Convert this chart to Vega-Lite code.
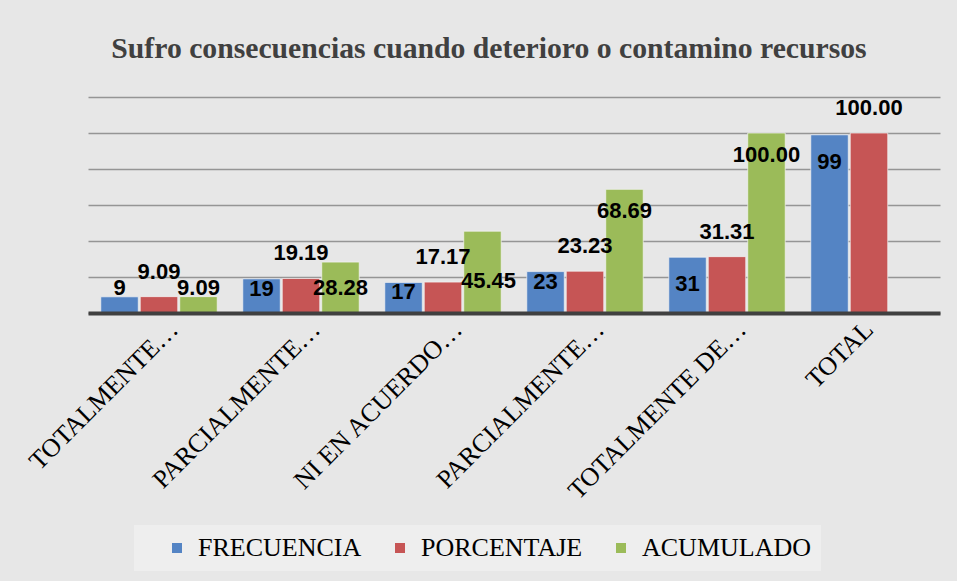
{
  "$schema": "https://vega.github.io/schema/vega-lite/v6.json",
  "width": 852,
  "height": 216,
  "autosize": {"type": "none"},
  "padding": {"left": 88, "top": 97, "right": 17, "bottom": 268},
  "background": "#E7E7E7",
  "title": {
    "text": "Sufro consecuencias cuando deterioro o contamino recursos",
    "font": "Liberation Serif",
    "fontSize": 29.7,
    "fontWeight": "bold",
    "color": "#404040",
    "anchor": "middle",
    "dx": -25,
    "offset": 32
  },
  "data": {
    "values": [
      {"categoria": "TOTALMENTE EN DESACUERDO", "serie": "FRECUENCIA", "valor": 9},
      {"categoria": "TOTALMENTE EN DESACUERDO", "serie": "PORCENTAJE", "valor": 9.09},
      {"categoria": "TOTALMENTE EN DESACUERDO", "serie": "ACUMULADO", "valor": 9.09},
      {"categoria": "PARCIALMENTE EN DESACUERDO", "serie": "FRECUENCIA", "valor": 19},
      {"categoria": "PARCIALMENTE EN DESACUERDO", "serie": "PORCENTAJE", "valor": 19.19},
      {"categoria": "PARCIALMENTE EN DESACUERDO", "serie": "ACUMULADO", "valor": 28.28},
      {"categoria": "NI EN ACUERDO NI EN DESACUERDO", "serie": "FRECUENCIA", "valor": 17},
      {"categoria": "NI EN ACUERDO NI EN DESACUERDO", "serie": "PORCENTAJE", "valor": 17.17},
      {"categoria": "NI EN ACUERDO NI EN DESACUERDO", "serie": "ACUMULADO", "valor": 45.45},
      {"categoria": "PARCIALMENTE DE ACUERDO", "serie": "FRECUENCIA", "valor": 23},
      {"categoria": "PARCIALMENTE DE ACUERDO", "serie": "PORCENTAJE", "valor": 23.23},
      {"categoria": "PARCIALMENTE DE ACUERDO", "serie": "ACUMULADO", "valor": 68.69},
      {"categoria": "TOTALMENTE DE ACUERDO", "serie": "FRECUENCIA", "valor": 31},
      {"categoria": "TOTALMENTE DE ACUERDO", "serie": "PORCENTAJE", "valor": 31.31},
      {"categoria": "TOTALMENTE DE ACUERDO", "serie": "ACUMULADO", "valor": 100},
      {"categoria": "TOTAL", "serie": "FRECUENCIA", "valor": 99},
      {"categoria": "TOTAL", "serie": "PORCENTAJE", "valor": 100}
    ]
  },
  "encoding": {
    "x": {
      "field": "categoria",
      "type": "nominal",
      "sort": ["TOTALMENTE EN DESACUERDO", "PARCIALMENTE EN DESACUERDO", "NI EN ACUERDO NI EN DESACUERDO", "PARCIALMENTE DE ACUERDO", "TOTALMENTE DE ACUERDO", "TOTAL"],
      "scale": {"paddingInner": 0.18, "paddingOuter": 0.09},
      "axis": {
        "title": null,
        "labelAngle": -45,
        "labelAlign": "right",
        "labelBaseline": "middle",
        "labelFont": "Liberation Serif",
        "labelFontSize": 26,
        "labelColor": "#000000",
        "labelPadding": 12,
        "labelOffset": {"condition": {"test": "datum.value == 'TOTAL'", "value": 0}, "value": 15},
        "labelLimit": 0,
        "ticks": false,
        "domainColor": "#404040",
        "domainWidth": 4,
        "zindex": 1,
        "labelExpr": "datum.value == 'TOTALMENTE EN DESACUERDO' ? 'TOTALMENTE…' : datum.value == 'PARCIALMENTE EN DESACUERDO' ? 'PARCIALMENTE…' : datum.value == 'NI EN ACUERDO NI EN DESACUERDO' ? 'NI EN ACUERDO…' : datum.value == 'PARCIALMENTE DE ACUERDO' ? 'PARCIALMENTE…' : datum.value == 'TOTALMENTE DE ACUERDO' ? 'TOTALMENTE DE…' : datum.value"
      }
    },
    "xOffset": {
      "field": "serie",
      "type": "nominal",
      "sort": ["FRECUENCIA", "PORCENTAJE", "ACUMULADO"],
      "scale": {"paddingInner": 0.05, "paddingOuter": 0}
    },
    "y": {
      "field": "valor",
      "type": "quantitative",
      "scale": {"domain": [0, 120], "nice": false},
      "axis": {
        "title": null,
        "labels": false,
        "ticks": false,
        "domain": false,
        "values": [0, 20, 40, 60, 80, 100, 120],
        "gridColor": "#959595",
        "gridWidth": 1.5
      }
    }
  },
  "layer": [
    {
      "mark": {"type": "bar", "stroke": "#F4F4F4", "strokeWidth": 1, "strokeOpacity": 0.7},
      "encoding": {
        "color": {
          "field": "serie",
          "type": "nominal",
          "scale": {"domain": ["FRECUENCIA", "PORCENTAJE", "ACUMULADO"], "range": ["#5484C4", "#C65555", "#9BBB59"]},
          "legend": {
            "orient": "none",
            "legendX": 46,
            "legendY": 428,
            "direction": "horizontal",
            "title": null,
            "symbolType": "square",
            "symbolSize": 100,
            "symbolStrokeWidth": 0,
            "symbolOffset": 20,
            "labelFont": "Liberation Serif",
            "labelFontSize": 26,
            "labelColor": "#000000",
            "labelLimit": 300,
            "labelOffset": 8,
            "columnPadding": 5,
            "padding": 10,
            "fillColor": "#EEEEEE"
          }
        }
      }
    },
    {
      "transform": [{"filter": "datum.serie == 'FRECUENCIA' && datum.valor < 10"}],
      "mark": {"type": "text", "font": "Liberation Sans", "fontSize": 22, "fontWeight": "bold", "color": "#000000", "baseline": "middle", "dy": -9},
      "encoding": {"text": {"field": "valor", "type": "quantitative", "format": "d"}}
    },
    {
      "transform": [{"filter": "datum.serie == 'FRECUENCIA' && datum.valor >= 10 && datum.valor < 26"}],
      "mark": {"type": "text", "font": "Liberation Sans", "fontSize": 22, "fontWeight": "bold", "color": "#000000", "baseline": "middle", "dy": 10},
      "encoding": {"text": {"field": "valor", "type": "quantitative", "format": "d"}}
    },
    {
      "transform": [{"filter": "datum.serie == 'FRECUENCIA' && datum.valor >= 26"}],
      "mark": {"type": "text", "font": "Liberation Sans", "fontSize": 22, "fontWeight": "bold", "color": "#000000", "baseline": "middle", "dy": 27},
      "encoding": {"text": {"field": "valor", "type": "quantitative", "format": "d"}}
    },
    {
      "transform": [{"filter": "datum.serie == 'PORCENTAJE'"}],
      "mark": {"type": "text", "font": "Liberation Sans", "fontSize": 22, "fontWeight": "bold", "color": "#000000", "baseline": "middle", "dy": -25},
      "encoding": {"text": {"field": "valor", "type": "quantitative", "format": ".2f"}}
    },
    {
      "transform": [{"filter": "datum.serie == 'ACUMULADO' && datum.valor < 10"}],
      "mark": {"type": "text", "font": "Liberation Sans", "fontSize": 22, "fontWeight": "bold", "color": "#000000", "baseline": "middle", "dy": -9},
      "encoding": {"text": {"field": "valor", "type": "quantitative", "format": ".2f"}}
    },
    {
      "transform": [{"filter": "datum.serie == 'ACUMULADO' && datum.valor >= 10 && datum.valor < 40"}],
      "mark": {"type": "text", "font": "Liberation Sans", "fontSize": 22, "fontWeight": "bold", "color": "#000000", "baseline": "middle", "dy": 26},
      "encoding": {"text": {"field": "valor", "type": "quantitative", "format": ".2f"}}
    },
    {
      "transform": [{"filter": "datum.serie == 'ACUMULADO' && datum.valor >= 40 && datum.valor < 60"}],
      "mark": {"type": "text", "font": "Liberation Sans", "fontSize": 22, "fontWeight": "bold", "color": "#000000", "baseline": "middle", "dy": 50, "dx": 6},
      "encoding": {"text": {"field": "valor", "type": "quantitative", "format": ".2f"}}
    },
    {
      "transform": [{"filter": "datum.serie == 'ACUMULADO' && datum.valor >= 60"}],
      "mark": {"type": "text", "font": "Liberation Sans", "fontSize": 22, "fontWeight": "bold", "color": "#000000", "baseline": "middle", "dy": 22},
      "encoding": {"text": {"field": "valor", "type": "quantitative", "format": ".2f"}}
    }
  ],
  "config": {
    "view": {"stroke": null},
    "legend": {"labelFont": "Liberation Serif", "labelFontSize": 26}
  }
}
